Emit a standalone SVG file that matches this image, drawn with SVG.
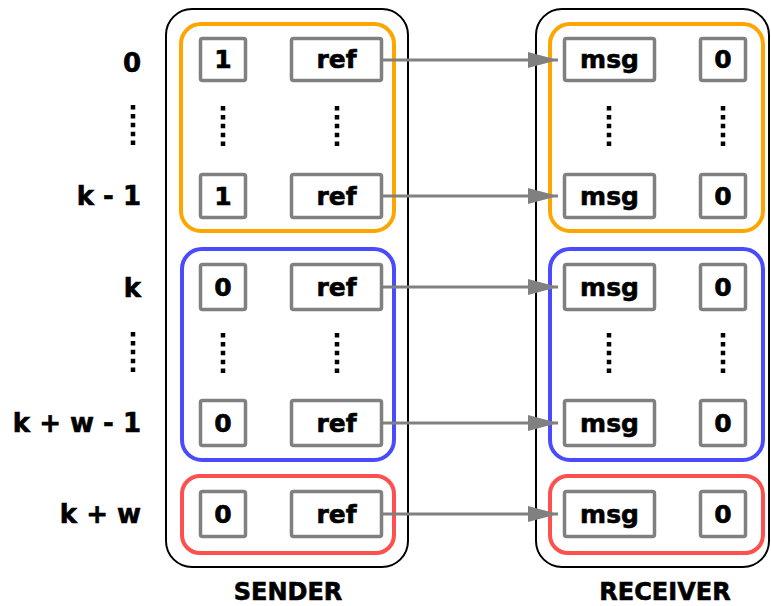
<svg xmlns="http://www.w3.org/2000/svg" width="771" height="606" viewBox="0 0 771 606">
  <style>
    text { font-family: "DejaVu Sans", Verdana, sans-serif; font-weight: bold; fill: #000; stroke: #000; stroke-width: 0.6; }
    .cell-t { font-size: 25px; text-anchor: middle; }
    .lbl { font-size: 26px; text-anchor: end; }
    .title { font-size: 24px; text-anchor: middle; }
    .outer { fill: #fff; stroke: #000; stroke-width: 2; }
    .grp { fill: none; stroke-width: 4; }
    .orange { stroke: #FFA500; }
    .blue { stroke: #4A4AFF; }
    .red { stroke: #FF5050; }
    .cell { fill: #fff; stroke: #808080; stroke-width: 3.5; }
    .dots { stroke: #000; stroke-width: 4.5; stroke-dasharray: 4.5 4.4; fill: none; }
    .conn { stroke: #808080; stroke-width: 3; fill: none; }
  </style>
  <defs>
    <marker id="arrow" markerUnits="userSpaceOnUse" markerWidth="30" markerHeight="16" refX="30" refY="8" orient="auto">
      <path d="M0,0 L30,8 L0,16 Z" fill="#808080"/>
    </marker>
  </defs>

  <!-- Row index labels -->
  <g id="labels">
    <text class="lbl" x="141" y="72">0</text>
    <line class="dots" x1="133" y1="105" x2="133" y2="146"/>
    <text class="lbl" x="141" y="205">k - 1</text>
    <text class="lbl" x="141" y="297">k</text>
    <line class="dots" x1="133" y1="332" x2="133" y2="373"/>
    <text class="lbl" x="141" y="432">k + w - 1</text>
    <text class="lbl" x="141" y="523">k + w</text>
  </g>

  <!-- Sender column -->
  <g id="sender">
    <rect class="outer" x="166" y="9" width="242" height="558" rx="26"/>
    <text class="title" x="288" y="600">SENDER</text>
  </g>
  <g id="sender-orange">
    <rect class="grp orange" x="181" y="24" width="213" height="207" rx="20"/>
    <rect class="cell" x="200.5" y="38.5" width="45" height="42" rx="2"/>
    <text class="cell-t" x="223" y="68">1</text>
    <rect class="cell" x="291.5" y="38.5" width="90" height="42" rx="2"/>
    <text class="cell-t" x="336.5" y="68">ref</text>
    <line class="dots" x1="223" y1="106" x2="223" y2="146"/>
    <line class="dots" x1="337" y1="106" x2="337" y2="146"/>
    <rect class="cell" x="200.5" y="174.5" width="45" height="43" rx="2"/>
    <text class="cell-t" x="223" y="205">1</text>
    <rect class="cell" x="291.5" y="174.5" width="90" height="43" rx="2"/>
    <text class="cell-t" x="336.5" y="205">ref</text>
  </g>
  <g id="sender-blue">
    <rect class="grp blue" x="182" y="249" width="212" height="211" rx="20"/>
    <rect class="cell" x="200.5" y="264.5" width="45" height="45" rx="2"/>
    <text class="cell-t" x="223" y="296">0</text>
    <rect class="cell" x="291.5" y="264.5" width="90" height="45" rx="2"/>
    <text class="cell-t" x="336.5" y="296">ref</text>
    <line class="dots" x1="223" y1="333" x2="223" y2="373"/>
    <line class="dots" x1="337" y1="333" x2="337" y2="373"/>
    <rect class="cell" x="200.5" y="400.5" width="45" height="45" rx="2"/>
    <text class="cell-t" x="223" y="432">0</text>
    <rect class="cell" x="291.5" y="400.5" width="90" height="45" rx="2"/>
    <text class="cell-t" x="336.5" y="432">ref</text>
  </g>
  <g id="sender-red">
    <rect class="grp red" x="182" y="476" width="212" height="77" rx="18"/>
    <rect class="cell" x="200.5" y="491.5" width="45" height="45" rx="2"/>
    <text class="cell-t" x="223" y="523">0</text>
    <rect class="cell" x="291.5" y="491.5" width="90" height="45" rx="2"/>
    <text class="cell-t" x="336.5" y="523">ref</text>
  </g>

  <!-- Receiver column -->
  <g id="receiver">
    <rect class="outer" x="536" y="9" width="233" height="558" rx="26"/>
    <text class="title" x="665" y="600">RECEIVER</text>
  </g>
  <g id="receiver-orange">
    <rect class="grp orange" x="550" y="24" width="213" height="207" rx="20"/>
    <rect class="cell" x="564.5" y="38.5" width="90" height="42" rx="2"/>
    <text class="cell-t" x="609.5" y="68">msg</text>
    <rect class="cell" x="700.5" y="38.5" width="45" height="42" rx="2"/>
    <text class="cell-t" x="723" y="68">0</text>
    <line class="dots" x1="609" y1="106" x2="609" y2="146"/>
    <line class="dots" x1="723" y1="106" x2="723" y2="146"/>
    <rect class="cell" x="564.5" y="174.5" width="90" height="43" rx="2"/>
    <text class="cell-t" x="609.5" y="205">msg</text>
    <rect class="cell" x="700.5" y="174.5" width="45" height="43" rx="2"/>
    <text class="cell-t" x="723" y="205">0</text>
  </g>
  <g id="receiver-blue">
    <rect class="grp blue" x="550" y="249" width="213" height="211" rx="20"/>
    <rect class="cell" x="564.5" y="264.5" width="90" height="45" rx="2"/>
    <text class="cell-t" x="609.5" y="296">msg</text>
    <rect class="cell" x="700.5" y="264.5" width="45" height="45" rx="2"/>
    <text class="cell-t" x="723" y="296">0</text>
    <line class="dots" x1="609" y1="333" x2="609" y2="373"/>
    <line class="dots" x1="723" y1="333" x2="723" y2="373"/>
    <rect class="cell" x="564.5" y="400.5" width="90" height="45" rx="2"/>
    <text class="cell-t" x="609.5" y="432">msg</text>
    <rect class="cell" x="700.5" y="400.5" width="45" height="45" rx="2"/>
    <text class="cell-t" x="723" y="432">0</text>
  </g>
  <g id="receiver-red">
    <rect class="grp red" x="550" y="476" width="213" height="77" rx="18"/>
    <rect class="cell" x="564.5" y="491.5" width="90" height="45" rx="2"/>
    <text class="cell-t" x="609.5" y="523">msg</text>
    <rect class="cell" x="700.5" y="491.5" width="45" height="45" rx="2"/>
    <text class="cell-t" x="723" y="523">0</text>
  </g>

  <!-- ref -> msg connectors -->
  <g id="connectors">
    <line class="conn" x1="383" y1="60" x2="558" y2="60" marker-end="url(#arrow)"/>
    <line class="conn" x1="383" y1="196" x2="558" y2="196" marker-end="url(#arrow)"/>
    <line class="conn" x1="383" y1="287" x2="558" y2="287" marker-end="url(#arrow)"/>
    <line class="conn" x1="383" y1="423" x2="558" y2="423" marker-end="url(#arrow)"/>
    <line class="conn" x1="383" y1="514" x2="558" y2="514" marker-end="url(#arrow)"/>
  </g>
</svg>
